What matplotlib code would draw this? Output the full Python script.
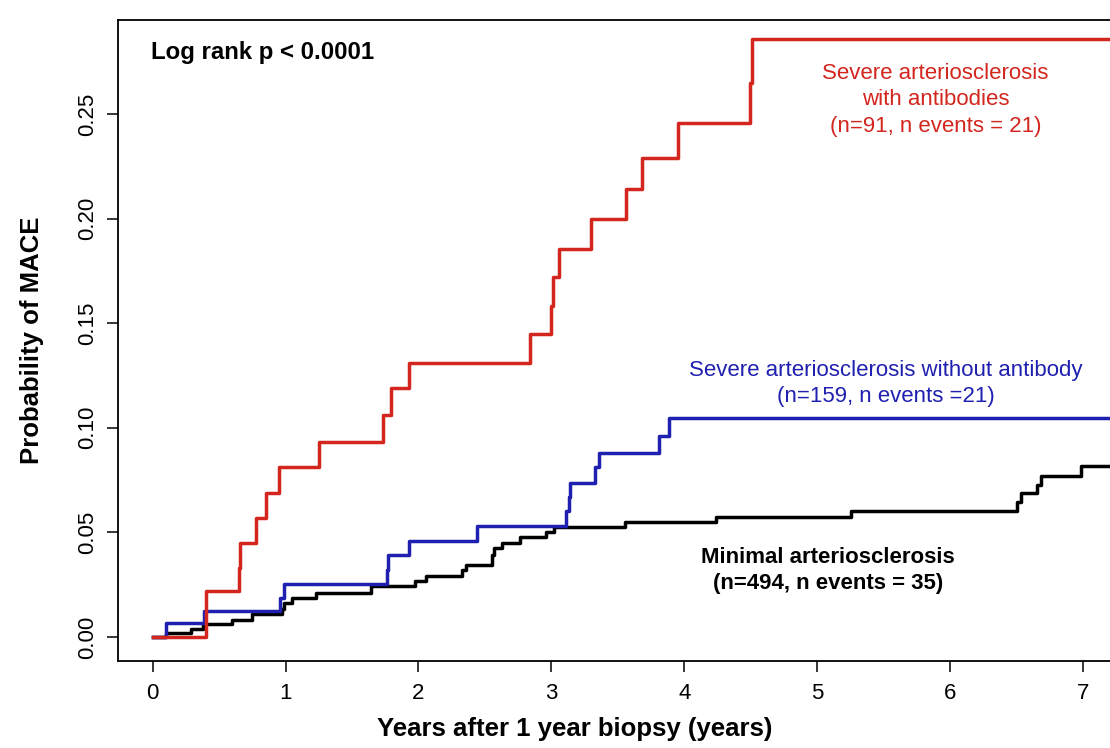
import matplotlib
matplotlib.use("Agg")
import matplotlib.pyplot as plt

plt.rcParams["font.family"] = ["Liberation Sans", "DejaVu Sans"]

# Cumulative incidence of MACE (step functions: time in years, probability)
red_t = [0, 0.40, 0.65, 0.655, 0.78, 0.85, 0.95, 1.25, 1.73, 1.79, 1.93, 2.84,
         3.00, 3.01, 3.06, 3.30, 3.56, 3.68, 3.95, 4.49, 4.51, 7.6]
red_p = [0, 0.022, 0.033, 0.045, 0.057, 0.069, 0.081, 0.093, 0.106, 0.119, 0.131, 0.145,
         0.158, 0.172, 0.1855, 0.200, 0.214, 0.229, 0.2457, 0.265, 0.286, 0.286]

blue_t = [0, 0.10, 0.39, 0.955, 0.99, 1.76, 1.77, 1.93, 2.44, 3.11, 3.13, 3.14,
          3.33, 3.36, 3.81, 3.88, 7.6]
blue_p = [0, 0.0067, 0.0126, 0.0187, 0.0255, 0.032, 0.039, 0.046, 0.053, 0.060, 0.067, 0.0736,
          0.081, 0.088, 0.096, 0.1047, 0.1047]

black_t = [0, 0.10, 0.29, 0.38, 0.60, 0.75, 0.97, 0.99, 1.05, 1.23, 1.64, 1.97, 2.06,
           2.33, 2.36, 2.55, 2.57, 2.63, 2.76, 2.96, 3.02, 3.55, 4.24, 5.25,
           6.50, 6.53, 6.65, 6.68, 6.98, 7.6]
black_p = [0, 0.002, 0.004, 0.006, 0.008, 0.011, 0.0135, 0.016, 0.0186, 0.021, 0.0244, 0.0268, 0.029,
           0.032, 0.0344, 0.039, 0.0425, 0.045, 0.048, 0.050, 0.0526, 0.055, 0.0574, 0.060,
           0.0646, 0.0688, 0.0727, 0.077, 0.0817, 0.0817]

x_ticks = [0, 1, 2, 3, 4, 5, 6, 7]
y_ticks = [0.00, 0.05, 0.10, 0.15, 0.20, 0.25]

RED = "#d3261e"
BLUE = "#2020b0"

W, H = 1110, 748
fig = plt.figure(figsize=(W / 100, H / 100), dpi=100)

# axes frame in pixels; the right side runs past the figure edge
x0_px, ppy = 152.5, 133.0
left_px, top_px, bottom_px = 118, 20, 661
xmin, xmax = -(x0_px - left_px) / ppy, 7.6
width_px = (xmax - xmin) * ppy
height_px = bottom_px - top_px
ax = fig.add_axes([left_px / W, (H - bottom_px) / H, width_px / W, height_px / H])

ax.step(black_t, black_p, where="post", color="black", lw=2.5)
ax.step(blue_t, blue_p, where="post", color=BLUE, lw=2.5)
ax.step(red_t, red_p, where="post", color=RED, lw=2.5)

ax.set_xlim(xmin, xmax)
ax.set_ylim(-0.0115, 0.2949)
ax.set_xticks(x_ticks)
ax.set_yticks(y_ticks)
ax.set_yticklabels(["%.2f" % v for v in y_ticks], rotation=90, va="center")
ax.tick_params(axis="both", length=8, width=1.1, labelsize=16, direction="out")
ax.tick_params(axis="x", pad=8)
ax.tick_params(axis="y", pad=6)
for s in ax.spines.values():
    s.set_linewidth(1.3)

ax.set_xlabel("Years after 1 year biopsy (years)", fontsize=18.5, fontweight="bold")
ax.set_ylabel("Probability of MACE", fontsize=18.5, fontweight="bold")
ax.xaxis.set_label_coords((575 - left_px) / width_px, -(717 - bottom_px) / height_px)
ax.yaxis.set_label_coords(-(left_px - 44) / width_px, 0.5)

ax.text(-0.015, 0.2796, "Log rank p < 0.0001", fontsize=17.3, fontweight="bold",
        ha="left", va="center")
ax.text(5.887, 0.2567, "Severe arteriosclerosis\nwith antibodies\n(n=91, n events = 21)",
        color=RED, fontsize=16, ha="center", va="center", multialignment="center",
        linespacing=1.36)
ax.text(5.515, 0.1212, "Severe arteriosclerosis without antibody\n(n=159, n events =21)",
        color=BLUE, fontsize=16, ha="center", va="center", multialignment="center",
        linespacing=1.36)
ax.text(5.08, 0.0318, "Minimal arteriosclerosis\n(n=494, n events = 35)",
        fontsize=16, fontweight="bold", ha="center", va="center", multialignment="center",
        linespacing=1.36)

fig.savefig("out.png", dpi=100)
